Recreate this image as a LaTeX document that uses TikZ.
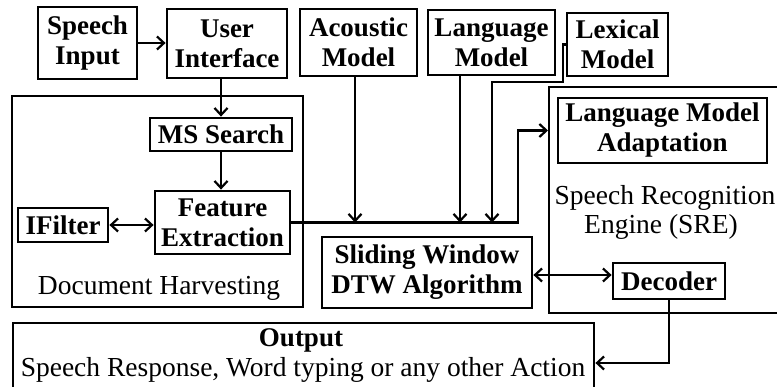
\documentclass[tikz,border=0pt]{standalone}
\usepackage{fontspec}
\setmainfont{Liberation Serif}
\usetikzlibrary{arrows.meta}
\begin{document}
\begin{tikzpicture}[x=1pt,y=-1pt,
  box/.style={draw, line width=2.8pt, inner sep=0pt, align=center,
    font=\bfseries\fontsize{27}{30}\selectfont},
  group/.style={draw, line width=2pt, inner sep=0pt},
  plain/.style={inner sep=0pt, font=\fontsize{27.5}{30}\selectfont},
  conn/.style={line width=2.2pt},
  tip/.style={-{Straight Barb[length=7pt,width=13pt]}},
  both/.style={{Straight Barb[length=7pt,width=13pt]}-{Straight Barb[length=7pt,width=13pt]}}
]
\path[use as bounding box] (0,0) rectangle (777,387);
\clip (0,0) rectangle (777,387);

% top row
\node[box, minimum width=99, minimum height=72] (speech) at (87.5,43) {Speech\\Input};
\node[box, minimum width=120, minimum height=69] (ui) at (227,43.5) {User\\Interface};
\node[box, minimum width=117, minimum height=67] (ac) at (358.5,42.5) {Acoustic\\Model};
\node[box, minimum width=127, minimum height=65] (lm) at (491.5,42.5) {Language\\Model};
\node[box, minimum width=101, minimum height=63] (lex) at (617.5,44.5) {Lexical\\Model};

% document harvesting group
\node[group, minimum width=291, minimum height=211] (dh) at (157.5,201.5) {};
\node[box, minimum width=142, minimum height=33] (ms) at (221,134.5) {MS Search};
\node[box, minimum width=135, minimum height=63] (fe) at (222.5,222.5) {Feature\\Extraction};
\node[box, minimum width=90, minimum height=34] (ifl) at (63,225) {IFilter};
\node[plain, anchor=base] (dhlabel) at (159,295) {Document Harvesting};

% matching
\node[box, minimum width=210, minimum height=71] (sw) at (427,272.5) {Sliding Window\\DTW Algorithm};

% speech recognition engine group
\node[group, minimum width=271, minimum height=226] (sre) at (684.5,200) {};
\node[box, minimum width=209, minimum height=65] (lma) at (662.5,130.5) {Language Model\\Adaptation};
\node[plain, anchor=base] (srel1) at (665,205) {Speech Recognition};
\node[plain, anchor=base] (srel2) at (661,234) {Engine (SRE)};
\node[box, minimum width=112, minimum height=36] (dec) at (669,281) {Decoder};

% output
\node[box, minimum width=581, minimum height=77] (out) at (303.5,361.5) {};
\node[plain, font=\bfseries\fontsize{27}{30}\selectfont, anchor=base] (outtitle) at (301,347) {Output};
\node[plain, anchor=base] (outtext) at (303,377) {Speech Response, Word typing or any other Action};

% routing points
\coordinate (bus) at (518,222.5);
\coordinate (acdrop) at (355,222.5);
\coordinate (lmdrop) at (460,222.5);
\coordinate (lexdrop) at (492,222.5);
\coordinate (lexbend) at (563,82);
\coordinate (swdec) at (0,275);
\coordinate (outarr) at (0,363);

% connectors
\draw[conn,tip] (speech.east) -- (ui.west |- speech.east);
\draw[conn,tip] (ms.north |- ui.south) -- (ms.north);
\draw[conn,tip] (ms.south) -- (ms.south |- fe.north);
\draw[conn,both] (ifl.east) -- (ifl.east -| fe.west);
\draw[conn,tip] (fe.east |- bus) -- (bus) |- (lma -| sre.west);
\draw[conn,tip] (ac.south -| acdrop) -- (acdrop);
\draw[conn,tip] (lm.south -| lmdrop) -- (lmdrop);
\draw[conn,tip] (lex.west) -| (lexbend) -| (lexdrop);
\draw[conn,both] (sw.east |- swdec) -- (dec.west |- swdec);
\draw[conn,tip] (dec.south) |- (out.east |- outarr);
\end{tikzpicture}
\end{document}
